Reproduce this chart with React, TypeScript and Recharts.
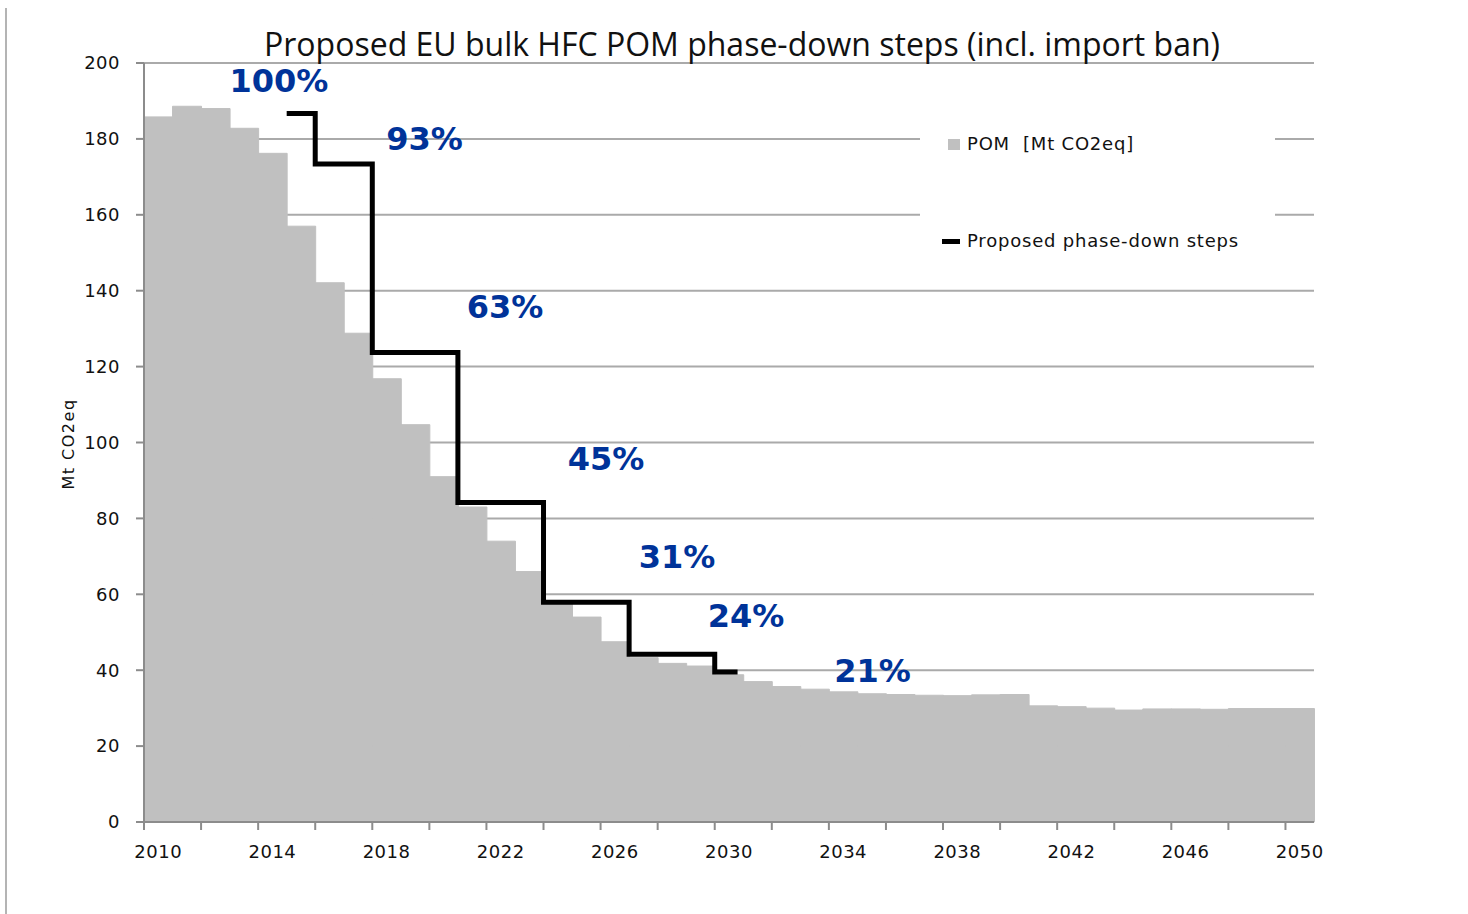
import React from 'react';
import {
  ComposedChart,
  Bar,
  Line,
  Scatter,
  XAxis,
  YAxis,
  CartesianGrid,
  Legend,
} from 'recharts';

// ---- data ----
const years = [
  2010, 2011, 2012, 2013, 2014, 2015, 2016, 2017, 2018, 2019,
  2020, 2021, 2022, 2023, 2024, 2025, 2026, 2027, 2028, 2029,
  2030, 2031, 2032, 2033, 2034, 2035, 2036, 2037, 2038, 2039,
  2040, 2041, 2042, 2043, 2044, 2045, 2046, 2047, 2048, 2049, 2050,
];
const pomValues = [
  185.8, 188.6, 188.0, 182.8, 176.2, 157.0, 142.1, 128.8, 116.8, 104.7,
  91.0, 83.0, 74.0, 66.0, 57.6, 54.0, 47.5, 43.3, 41.8, 41.1,
  38.8, 37.0, 35.7, 35.0, 34.3, 33.8, 33.6, 33.4, 33.3, 33.5,
  33.6, 30.6, 30.4, 30.0, 29.5, 29.8, 29.8, 29.7, 29.9, 29.9, 29.9,
];

// phase-down steps (each step starts at the beginning of its year)
const stepYears = [2015, 2016, 2018, 2021, 2024, 2027, 2030, 2030.8];
const stepValues = [186.7, 173.4, 123.7, 84.2, 57.9, 44.2, 39.5, 39.5];

// percentage annotations, anchored in data units (year, Mt)
const pctTexts = ['100%', '93%', '63%', '45%', '31%', '24%', '21%'];
const pctYears = [2014.73, 2019.83, 2022.65, 2026.19, 2028.68, 2031.1, 2035.53];
const pctValues = [192.4, 177.1, 132.8, 92.8, 66.9, 51.5, 37.0];

const yTicks = [0, 20, 40, 60, 80, 100, 120, 140, 160, 180, 200];

const pomData = years.map((year, i) => ({ year, pom: pomValues[i] }));
const stepData = stepYears.map((x, i) => ({ x, v: stepValues[i] }));
const pctData = pctTexts.map((text, i) => ({ text, x: pctYears[i], y: pctValues[i] }));

// ---- layout ----
const W = 1460;
const H = 890;
const PLOT_W = 1170;
const BAND = PLOT_W / years.length;
const FONT = '"DejaVu Sans", Verdana, sans-serif';
const TEXT = '#111';
const AXIS = '#8c8c8c';

function YearTick(props: any) {
  const { x, y, payload } = props;
  const year = Number(payload.value);
  const left = x - BAND / 2;
  return (
    <g>
      {(year - 2010) % 2 === 0 && (
        <line x1={left} x2={left} y1={y} y2={y + 8} stroke={AXIS} strokeWidth={2} />
      )}
      {(year - 2010) % 4 === 0 && (
        <text
          x={x}
          y={y + 36}
          textAnchor="middle"
          fill={TEXT}
          fontSize={18}
          fontFamily={FONT}
          letterSpacing={0.5}
        >
          {year}
        </text>
      )}
    </g>
  );
}

function PctLabel(props: any) {
  const { cx, cy, payload } = props;
  return (
    <text
      x={cx}
      y={cy}
      textAnchor="middle"
      fill="#003399"
      fontSize={32}
      fontWeight="bold"
      fontFamily={FONT}
    >
      {payload.text}
    </text>
  );
}

function LegendBox(props: any) {
  const items = (props.payload || []).filter((it: any) => it.type !== 'none');
  const rowCenters = [44, 141];
  return (
    <div style={{ position: 'relative', width: '100%', height: '100%' }}>
      {items.map((it: any, i: number) => (
        <div
          key={it.value}
          style={{
            position: 'absolute',
            left: 0,
            top: rowCenters[i] - 12,
            height: 24,
            width: '100%',
          }}
        >
          {it.type === 'line' ? (
            <div
              style={{
                position: 'absolute',
                left: 22,
                top: 10,
                width: 18,
                height: 5,
                background: it.color,
              }}
            />
          ) : (
            <div
              style={{
                position: 'absolute',
                left: 28,
                top: 7,
                width: 12,
                height: 11,
                background: it.color,
              }}
            />
          )}
          <span
            style={{
              position: 'absolute',
              left: 47,
              top: 0,
              lineHeight: '24px',
              fontSize: 18,
              fontFamily: FONT,
              color: TEXT,
              whiteSpace: 'pre',
              letterSpacing: 0.8,
            }}
          >
            {it.value}
          </span>
        </div>
      ))}
    </div>
  );
}

export default function App() {
  return (
    <div style={{ position: 'relative', width: W, height: H }}>
      <div
        style={{
          position: 'fixed',
          left: 5,
          top: 8,
          width: 2,
          height: 906,
          background: '#b4b4b4',
        }}
      />
      <ComposedChart
        width={W}
        height={H}
        data={pomData}
        margin={{ top: 55, right: 154, left: 56, bottom: 36 }}
        barCategoryGap={0}
        barGap={0}
      >
        <CartesianGrid vertical={false} stroke="#aaaaaa" strokeWidth={2} />
        <XAxis
          dataKey="year"
          type="category"
          interval={0}
          height={40}
          tickLine={false}
          tickSize={0}
          tickMargin={0}
          tick={<YearTick />}
          axisLine={{ stroke: AXIS, strokeWidth: 2 }}
        />
        <XAxis
          xAxisId="num"
          type="number"
          dataKey="x"
          domain={[2010, 2051]}
          allowDataOverflow
          hide
        />
        <YAxis
          type="number"
          domain={[0, 200]}
          ticks={yTicks}
          width={80}
          tickSize={8}
          tickMargin={16}
          axisLine={{ stroke: AXIS, strokeWidth: 2 }}
          tickLine={{ stroke: AXIS, strokeWidth: 2 }}
          tick={{ fill: TEXT, fontSize: 18, fontFamily: FONT, letterSpacing: 0.5 }}
        />
        <Legend
          layout="horizontal"
          align="center"
          verticalAlign="middle"
          content={<LegendBox />}
          wrapperStyle={{
            left: 912,
            top: 92,
            width: 355,
            height: 170,
            backgroundColor: '#fff',
          }}
        />
        <Bar
          dataKey="pom"
          name="POM  [Mt CO2eq]"
          fill="#c0c0c0"
          stroke="#c0c0c0"
          strokeWidth={1}
          legendType="rect"
          isAnimationActive={false}
        />
        <Line
          xAxisId="num"
          data={stepData}
          dataKey="v"
          name="Proposed phase-down steps"
          type="stepAfter"
          stroke="#000"
          strokeWidth={5}
          dot={false}
          activeDot={false}
          legendType="line"
          isAnimationActive={false}
        />
        <Scatter
          xAxisId="num"
          data={pctData}
          dataKey="y"
          shape={<PctLabel />}
          legendType="none"
          isAnimationActive={false}
        />
      </ComposedChart>
      <svg
        width={W}
        height={H}
        style={{ position: 'absolute', left: 0, top: 0, pointerEvents: 'none' }}
      >
        <text
          x={734}
          y={48}
          textAnchor="middle"
          fill={TEXT}
          fontSize={32}
          fontFamily='"Open Sans", sans-serif'
        >
          Proposed EU bulk HFC POM phase-down steps (incl. import ban)
        </text>
        <text
          x={66}
          y={436}
          transform="rotate(-90, 66, 436)"
          textAnchor="middle"
          fill={TEXT}
          fontSize={16}
          fontFamily={FONT}
          letterSpacing={1.5}
        >
          Mt CO2eq
        </text>
      </svg>
    </div>
  );
}
